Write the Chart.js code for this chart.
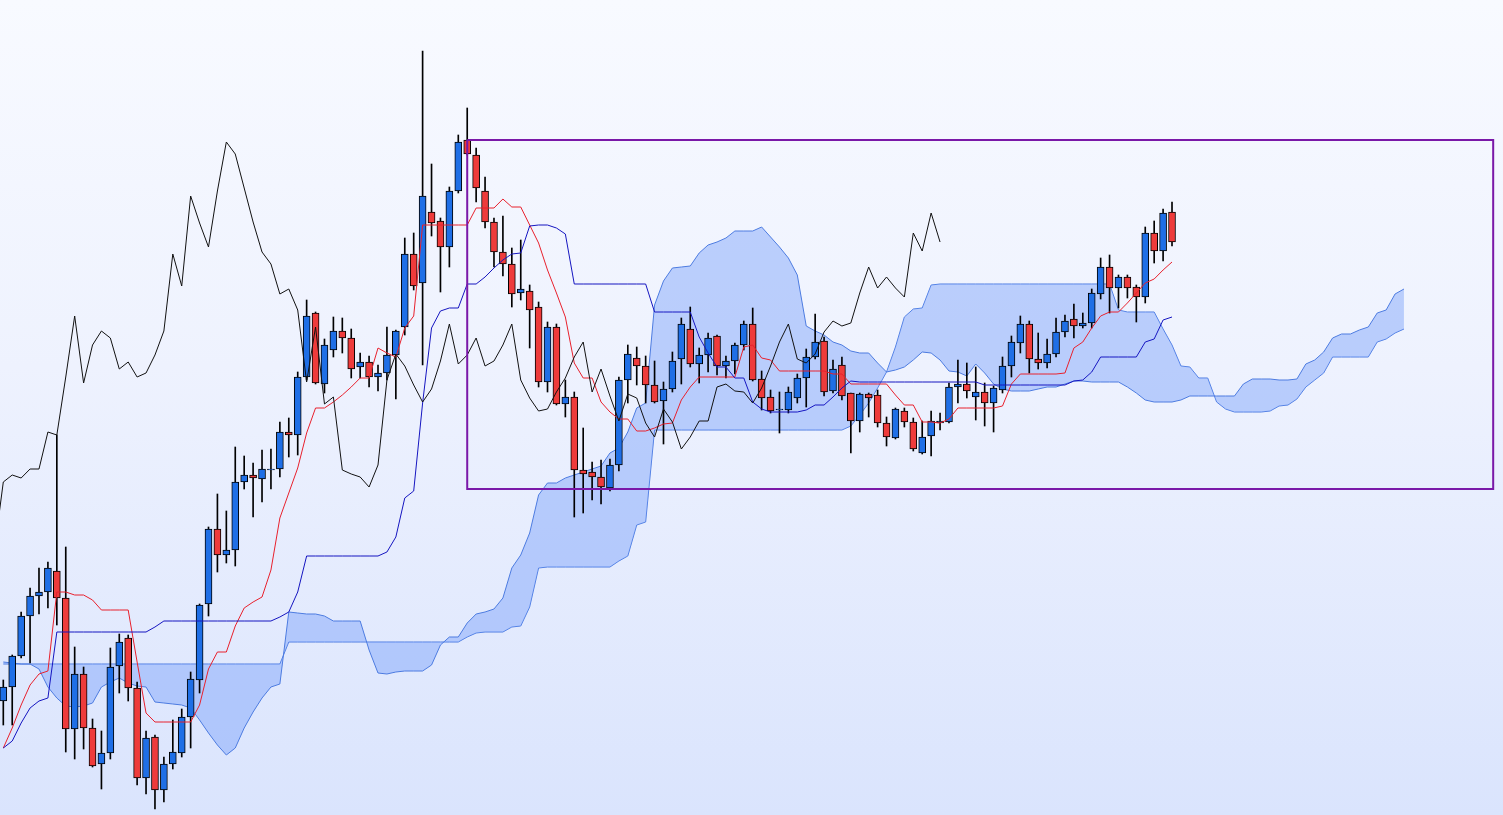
<!DOCTYPE html>
<html>
<head>
<meta charset="utf-8">
<title>Ichimoku</title>
<script src="https://cdn.jsdelivr.net/npm/chart.js@4.4.1/dist/chart.umd.min.js"></script>
<style>
  html, body { margin: 0; padding: 0; overflow: hidden; }
  #myChart { display: block; background: linear-gradient(to bottom, #f8faff 0%, #eef2fe 45%, #dae4fd 100%); }
</style>
</head>
<body>
<canvas id="myChart" width="1503" height="815"></canvas>
<script>
// Velas (índice 0..131), precios en unidades arbitrarias
const opens = [114,128,159,199,219,223,244,217,86,141,
  87,51,62,149,177,127,37,78,25,51,
  62,98,135,211,286,260,265,333,340,336,
  345,346,383,380,438,502,431,465,484,477,
  448,453,438,442,460,488,561,532,603,594,
  568,624,675,660,624,593,563,551,522,524,
  508,433,488,411,418,345,343,338,327,350,
  435,457,449,430,414,426,456,486,451,460,
  479,449,454,470,491,436,418,405,405,417,
  437,458,474,424,450,422,394,421,420,392,
  377,404,393,362,379,392,393,428,431,418,
  423,412,425,449,472,491,456,452,461,483,
  496,489,492,521,548,527,538,528,518,582,
  564,603];
const highs = [135,160,203,227,247,253,380,268,168,148,
  96,84,167,181,180,133,84,80,58,95,
  106,143,211,288,321,304,368,359,352,365,
  366,393,397,443,515,503,476,498,497,486,
  462,459,450,488,485,577,582,764,651,597,
  628,680,707,667,638,597,599,567,575,530,
  513,493,491,435,423,387,353,355,356,438,
  470,468,459,454,433,463,497,508,467,482,
  480,459,472,494,507,444,425,423,428,441,
  466,501,478,455,458,422,422,422,425,398,
  407,407,397,394,404,402,432,455,452,448,
  432,429,458,479,499,494,482,476,497,500,
  511,502,526,557,560,540,540,530,588,594,
  606,613];
const lows = [90,90,157,152,201,207,190,63,56,66,
  48,26,56,122,114,30,21,6,13,46,
  58,67,122,199,243,252,249,326,298,313,
  326,338,358,360,435,431,422,458,462,437,
  437,428,424,435,416,480,525,450,579,523,
  548,622,660,613,587,548,539,508,515,467,
  428,423,410,398,298,302,315,311,324,344,
  412,430,412,412,371,423,431,448,432,443,
  440,437,441,465,434,405,402,382,402,412,
  408,456,419,422,415,362,383,398,388,369,
  376,388,364,361,359,385,392,412,417,395,
  389,383,422,438,462,442,446,447,458,478,
  477,487,487,516,502,507,517,493,512,552,
  554,569];
const closes = [128,159,199,219,223,247,217,86,141,87,
  49,62,148,173,127,37,77,25,51,63,
  98,136,210,286,260,265,333,340,337,346,
  346,383,380,438,499,432,470,484,477,446,
  453,438,442,460,484,561,529,619,592,568,
  624,673,661,627,593,563,551,521,526,505,
  433,488,411,418,345,341,338,328,350,435,
  461,449,430,413,426,454,491,451,460,477,
  449,454,470,491,435,417,404,406,423,437,
  458,473,423,446,419,394,421,417,392,378,
  406,393,366,378,394,394,428,431,424,423,
  412,427,449,473,491,456,452,461,483,494,
  489,492,522,548,527,538,527,518,582,564,
  602,573];

// Tenkan-sen (roja) y Kijun-sen (azul oscuro), mismo índice que las velas
const tenkan = [67,87,110,130,141,144,223,223,220,220,
  215,205,205,205,205,153,102,93,93,93,
  93,93,110,146,163,163,189,207,213,218,
  245,297,322,347,382,407,407,413,420,428,
  437,437,467,462,458,487,499,590,590,590,
  590,590,590,607,607,607,616,608,608,590,
  572,545,522,498,452,437,437,413,403,396,
  396,384,384,387,391,392,415,428,438,438,
  438,438,438,468,470,457,455,444,444,444,
  444,444,444,441,441,431,431,431,431,431,
  420,410,410,393,393,392,396,407,407,407,
  407,407,409,431,441,441,441,441,441,442,
  467,473,487,499,503,503,512,522,532,536,
  545,553];
const kijun = [67,74,92,107,114,117,183,183,183,183,
  183,183,183,183,183,183,183,188,194,194,
  194,194,194,194,194,194,194,194,194,194,
  194,198,203,223,259,259,259,259,259,259,
  259,259,259,263,278,317,324,412,487,504,
  507,507,531,531,538,547,555,561,562,589,
  590,590,587,581,531,531,531,531,531,531,
  531,531,531,503,503,503,503,503,478,462,
  448,448,437,437,413,406,403,403,403,403,
  405,410,410,418,427,434,433,433,433,433,
  433,433,433,433,433,433,433,433,433,433,
  430,430,430,430,430,430,430,430,430,430,
  434,435,443,458,458,458,458,458,473,476,
  495,498];

// Nube: Senkou Span A y B, desplazadas 26 periodos (índice 0..157)
const spanA = [153,152,151,151,146,128,117,109,108,109,
  112,128,133,137,132,129,128,113,112,111,
  110,107,95,82,70,60,67,87,103,117,
  128,131,203,202,201,201,199,194,194,194,
  194,165,142,141,143,144,144,144,150,170,
  178,178,192,201,203,206,217,247,260,282,
  320,332,332,337,340,343,346,349,362,367,
  383,407,412,510,534,547,548,549,562,570,
  573,577,584,584,584,588,578,568,557,540,
  489,484,480,473,470,464,462,462,452,443,
  445,448,455,463,462,455,444,443,439,451,
  442,431,426,424,424,424,426,428,428,431,
  434,434,433,433,433,433,428,422,415,413,
  413,413,415,419,419,419,419,419,419,431,
  436,436,436,435,435,436,451,455,463,477,
  481,481,485,488,502,505,521,526];
const spanB = [151,151,151,151,151,151,151,151,151,151,
  151,151,151,151,151,151,151,151,151,151,
  151,151,151,151,151,151,151,151,151,151,
  151,151,173,173,173,173,173,173,173,173,
  173,173,173,173,173,173,173,173,173,173,
  173,173,178,182,183,183,183,188,189,208,
  247,248,248,248,248,248,248,248,248,254,
  259,290,293,385,385,385,385,385,385,385,
  385,385,385,385,385,385,385,385,385,385,
  385,385,385,385,385,389,400,412,427,443,
  468,498,506,507,530,531,531,531,531,531,
  531,531,531,531,531,531,531,531,531,531,
  531,531,531,531,531,505,503,503,503,503,
  486,470,449,448,437,437,413,406,403,403,
  403,403,404,409,410,416,428,435,442,458,
  458,458,458,458,473,476,482,486];

// Chikou Span: cierre desplazado 26 periodos hacia atrás
const chikouShift = 26;

// Rectángulo marcado (de la vela 52 hasta el índice 167)
const boxFrom = 52, boxTo = 167, boxTop = 675, boxBottom = 326;

const BLUE = '#1f6fe6';
const RED = '#ee3b3b';

const bodies = closes.map((c, i) => ({ x: i, y: [opens[i], c] }));
const wicks = closes.map((c, i) => ({ x: i, y: [lows[i], highs[i]] }));
const bodyColors = closes.map((c, i) => c >= opens[i] ? BLUE : RED);
const toXY = arr => arr.map((v, i) => ({ x: i, y: v }));

const ctx = document.getElementById('myChart').getContext('2d');
const chart = new Chart(ctx, {
  type: 'bar',
  data: {
    datasets: [
      {
        type: 'line', label: 'Senkou A', data: toXY(spanA),
        borderColor: '#4c7be0', borderWidth: 1, pointRadius: 0, tension: 0,
        fill: '+1', backgroundColor: 'rgba(120,160,250,0.45)', order: 10
      },
      {
        type: 'line', label: 'Senkou B', data: toXY(spanB),
        borderColor: '#4c7be0', borderWidth: 1, pointRadius: 0, tension: 0,
        fill: false, order: 10
      },
      {
        label: 'Mechas', data: wicks, backgroundColor: '#000',
        barThickness: 1, grouped: false, borderWidth: 0, order: 4
      },
      {
        label: 'Velas', data: bodies, backgroundColor: bodyColors,
        borderColor: '#000', borderWidth: 1, borderSkipped: false,
        barThickness: 7, grouped: false, order: 3
      },
      {
        type: 'line', label: 'Chikou',
        data: closes.map((c, i) => ({ x: i - chikouShift, y: c })),
        borderColor: '#111', borderWidth: 1, pointRadius: 0, tension: 0, fill: false, order: 2
      },
      {
        type: 'line', label: 'Kijun', data: toXY(kijun),
        borderColor: '#1515c0', borderWidth: 1, pointRadius: 0, tension: 0, fill: false, order: 2
      },
      {
        type: 'line', label: 'Tenkan', data: toXY(tenkan),
        borderColor: '#e8202c', borderWidth: 1, pointRadius: 0, tension: 0, fill: false, order: 2
      },
      {
        type: 'line', label: 'Zona',
        data: [
          { x: boxFrom, y: boxTop }, { x: boxTo, y: boxTop },
          { x: boxTo, y: boxBottom }, { x: boxFrom, y: boxBottom },
          { x: boxFrom, y: boxTop }
        ],
        borderColor: '#7a18a8', borderWidth: 2, pointRadius: 0, tension: 0, fill: false, order: 1
      }
    ]
  },
  options: {
    responsive: false,
    animation: false,
    layout: { padding: 0 },
    plugins: { legend: { display: false }, tooltip: { enabled: false } },
    scales: {
      x: { type: 'linear', min: -0.37, max: 168.1, offset: false, display: false },
      y: { type: 'linear', min: 0, max: 815, display: false }
    }
  }
});
</script>
</body>
</html>
